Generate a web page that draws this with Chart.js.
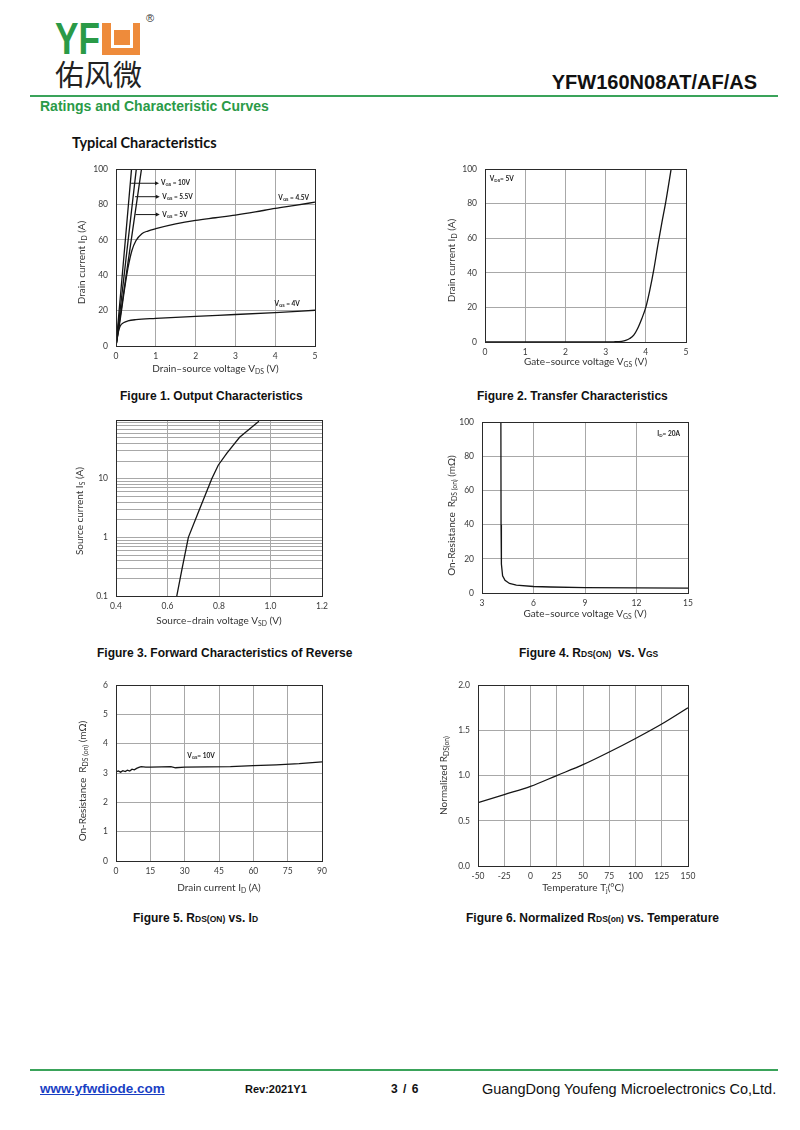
<!DOCTYPE html>
<html>
<head>
<meta charset="utf-8">
<script src="https://cdn.jsdelivr.net/npm/chart.js@4.4.0/dist/chart.umd.min.js"></script>
<style>
body { margin: 0; background: #fff; }
#page { position: relative; width: 800px; height: 1130px; background: #fff; overflow: hidden; font-family: 'Liberation Sans', Arial, sans-serif; }
.abs { position: absolute; white-space: nowrap; }
canvas { position: absolute; }
.cap { font-size: 12px; line-height: 14px; font-weight: bold; color: #111; }
.cap .s { font-size: 8.5px; }
.gline { position: absolute; left: 30px; width: 748px; height: 2px; background: #3aa35a; }
</style>
</head>
<body>
<div id="page">
  <!-- header -->
  <div class="abs" style="left:55px;top:17px;font-size:44px;line-height:44px;font-weight:bold;color:#2a9a47;transform:scaleX(0.8);transform-origin:0 0;">YF</div>
  <div class="abs" style="left:102px;top:23px;width:38px;height:32px;background:#ee8b3b;"></div>
  <div class="abs" style="left:111px;top:23px;width:22px;height:25px;background:#fff;"></div>
  <div class="abs" style="left:114px;top:30px;width:16px;height:15px;background:#ee8b3b;"></div>
  <div class="abs" style="left:146px;top:12px;font-size:11px;color:#333;">&reg;</div>
  <div class="abs" style="left:55px;top:59px;font-family:'Noto Sans CJK SC';font-size:29px;line-height:29px;color:#222;">佑风微</div>
  <div class="abs" style="right:43px;top:72px;font-size:20px;line-height:20px;font-weight:bold;color:#111;">YFW160N08AT/AF/AS</div>
  <div class="gline" style="top:95px;"></div>
  <div class="abs" style="left:40px;top:99px;font-size:14px;line-height:14px;font-weight:bold;color:#2a9a47;">Ratings and Characteristic Curves</div>
  <div class="abs" style="left:72px;top:135px;font-family:Lato;font-size:14.5px;line-height:16px;font-weight:bold;color:#111;">Typical Characteristics</div>

  <canvas id="fig1"></canvas>
  <canvas id="fig2"></canvas>
  <canvas id="fig3"></canvas>
  <canvas id="fig4"></canvas>
  <canvas id="fig5"></canvas>
  <canvas id="fig6"></canvas>

  <div class="abs cap" style="left:120px;top:389px;">Figure 1. Output Characteristics</div>
  <div class="abs cap" style="left:477px;top:389px;">Figure 2. Transfer Characteristics</div>
  <div class="abs cap" style="left:97px;top:646px;">Figure 3. Forward Characteristics of Reverse</div>
  <div class="abs cap" style="left:519px;top:646px;">Figure 4. R<span class="s">DS(ON)</span>&nbsp; vs. V<span class="s">GS</span></div>
  <div class="abs cap" style="left:133px;top:911px;">Figure 5. R<span class="s">DS(ON)</span> vs. I<span class="s">D</span></div>
  <div class="abs cap" style="left:466px;top:911px;">Figure 6. Normalized R<span class="s">DS(on)</span> vs. Temperature</div>

  <!-- footer -->
  <div class="gline" style="top:1069px;"></div>
  <div class="abs" style="left:40px;top:1082px;font-size:13.5px;line-height:14px;font-weight:bold;color:#1a3fc4;text-decoration:underline;">www.yfwdiode.com</div>
  <div class="abs" style="left:245px;top:1082px;font-size:11px;line-height:14px;font-weight:bold;color:#111;">Rev:2021Y1</div>
  <div class="abs" style="left:391px;top:1082px;font-size:12px;line-height:14px;font-weight:bold;color:#111;word-spacing:2px;">3 / 6</div>
  <div class="abs" style="left:482px;top:1082px;font-size:14.5px;line-height:14px;color:#111;">GuangDong Youfeng Microelectronics Co,Ltd.</div>
</div>

<script>
// Figure 1 - output characteristics
var vds10 = [0, 0.2, 0.39];
var id10 = [0, 51, 100];
var vds55 = [0, 0.25, 0.51];
var id55 = [0, 49, 100];
var vds5 = [0, 0.3, 0.64];
var id5 = [0, 47, 100];
var vds45 = [0, 0.1, 0.2, 0.3, 0.4, 0.5, 0.65, 0.8, 1, 1.5, 2, 2.5, 3, 3.5, 4, 4.5, 5];
var id45 = [0, 14, 30, 44, 54, 59.5, 63.5, 65, 66.3, 69, 71, 72.5, 74, 75.8, 77.8, 79.5, 81.3];
var vds4 = [0, 0.05, 0.1, 0.2, 0.3, 0.5, 1, 2, 3, 4, 5];
var id4 = [0, 7, 11, 13.3, 14.2, 14.9, 15.6, 16.8, 17.8, 18.9, 20.2];

// Figure 2 - transfer characteristics
var vgsT = [0, 3.0, 3.2, 3.4, 3.5, 3.6, 3.7, 3.8, 3.9, 4.0, 4.1, 4.2, 4.3, 4.4, 4.5, 4.63];
var idT = [0, 0, 0.1, 0.4, 0.9, 2, 4, 8, 13.5, 20, 30, 42, 56, 69, 81.5, 100];

// Figure 3 - body diode forward
var vsd = [0.636, 0.657, 0.681, 0.724, 0.772, 0.797, 0.83, 0.88, 0.955];
var isd = [0.1, 0.3, 1, 3, 10, 17, 27, 51, 96];
var fig3YTicks = [0.1, 0.2, 0.3, 0.4, 0.5, 0.6, 0.7, 0.8, 0.9, 1, 2, 3, 4, 5, 6, 7, 8, 9, 10, 20, 30, 40, 50, 60, 70, 80, 90, 100];
var fig3YLabels = [0.1, 1, 10];

// Figure 4 - Rds(on) vs Vgs
var vgsR = [4.1, 4.11, 4.13, 4.2, 4.34, 4.6, 5, 6, 7, 9, 12, 15];
var rdsV = [100, 40, 17, 10, 7.4, 5.6, 4.6, 3.8, 3.5, 3.2, 3.0, 2.8];

// Figure 5 - Rds(on) vs Id
var idR = [0, 1, 2, 3, 4, 5, 6, 7, 8, 9, 10, 11, 13, 15, 20, 24, 26, 30, 40, 50, 60, 70, 80, 90];
var rdsI = [3.04, 3.07, 3.03, 3.08, 3.05, 3.1, 3.07, 3.13, 3.11, 3.16, 3.19, 3.22, 3.2, 3.2, 3.21, 3.22, 3.18, 3.2, 3.21, 3.22, 3.25, 3.28, 3.32, 3.38];

// Figure 6 - normalized Rds(on) vs temperature
var tj = [-50, -25, 0, 25, 50, 75, 100, 125, 150];
var rdsNorm = [0.70, 0.79, 0.88, 1.0, 1.12, 1.26, 1.41, 1.57, 1.75];

var PAD_L = 70, PAD_T = 12, PAD_R = 20, PAD_B = 40;
var notes = {};

function pts(xs, ys) {
  return xs.map(function (x, i) { return { x: x, y: ys[i] }; });
}

function curve(xs, ys, smooth) {
  return {
    data: pts(xs, ys),
    showLine: true,
    borderColor: '#151515',
    borderWidth: 1.3,
    pointRadius: 0,
    fill: false,
    tension: 0,
    cubicInterpolationMode: smooth ? 'monotone' : 'default'
  };
}

function fontOf(sub, size, weight) {
  return (weight || 'normal') + ' ' + (sub ? size * 0.68 : size) + 'px Lato';
}

function drawRich(ctx, segs, x, y, size, align, weight) {
  var w = 0;
  segs.forEach(function (s) { ctx.font = fontOf(s[1], size, weight); w += ctx.measureText(s[0]).width; });
  var cx = align === 'center' ? x - w / 2 : (align === 'right' ? x - w : x);
  ctx.textAlign = 'left';
  ctx.textBaseline = 'middle';
  segs.forEach(function (s) {
    ctx.font = fontOf(s[1], size, weight);
    ctx.fillText(s[0], cx, s[1] ? y + size * 0.25 : y);
    cx += ctx.measureText(s[0]).width;
  });
}

var notePlugin = {
  id: 'notes',
  afterDraw: function (chart) {
    var n = notes[chart.canvas.id];
    var ctx = chart.ctx, a = chart.chartArea, xs = chart.scales.x, ys = chart.scales.y;
    ctx.save();
    ctx.strokeStyle = '#2a2a2a';
    ctx.lineWidth = 1;
    ctx.strokeRect(Math.round(a.left) + 0.5, Math.round(a.top) + 0.5, Math.round(a.right - a.left), Math.round(a.bottom - a.top));
    ctx.fillStyle = '#333';
    drawRich(ctx, n.xTitle, (a.left + a.right) / 2, a.bottom + n.xOff, 10, 'center');
    ctx.save();
    ctx.translate(a.left - n.yOff, (a.top + a.bottom) / 2 + (n.yShift || 0));
    ctx.rotate(-Math.PI / 2);
    drawRich(ctx, n.yTitle, 0, 0, 10, 'center');
    ctx.restore();
    ctx.fillStyle = '#1a1a1a';
    ctx.strokeStyle = '#1a1a1a';
    (n.arrows || []).forEach(function (ar) {
      var x1 = xs.getPixelForValue(ar[0]), y1 = ys.getPixelForValue(ar[1]);
      var x2 = xs.getPixelForValue(ar[2]);
      ctx.beginPath();
      ctx.moveTo(x1, y1);
      ctx.lineTo(x2 - 3, y1);
      ctx.stroke();
      ctx.beginPath();
      ctx.moveTo(x2, y1);
      ctx.lineTo(x2 - 4, y1 - 2);
      ctx.lineTo(x2 - 4, y1 + 2);
      ctx.closePath();
      ctx.fill();
    });
    (n.labels || []).forEach(function (lb) {
      drawRich(ctx, lb.segs, xs.getPixelForValue(lb.x), ys.getPixelForValue(lb.y), 6.5, lb.align || 'left', 'bold');
    });
    ctx.restore();
  }
};

function axis(which, o) {
  return {
    type: o.type || 'linear',
    min: o.min,
    max: o.max,
    grid: { color: '#a8a8a8', lineWidth: 1, drawTicks: false },
    border: { display: false },
    afterBuildTicks: o.build,
    afterFit: function (sc) {
      if (which === 'x') sc.height = PAD_B; else sc.width = PAD_L;
    },
    ticks: {
      stepSize: o.step,
      color: '#3a3a3a',
      font: { family: 'Lato', size: 8.5 },
      padding: which === 'x' ? 5 : 8,
      autoSkip: false,
      maxRotation: 0,
      callback: o.fmt || function (v) { return String(v); }
    }
  };
}

function makeChart(id, rect, datasets, xo, yo, note) {
  var cv = document.getElementById(id);
  cv.width = rect[2] - rect[0] + PAD_L + PAD_R;
  cv.height = rect[3] - rect[1] + PAD_T + PAD_B;
  cv.style.left = (rect[0] - PAD_L) + 'px';
  cv.style.top = (rect[1] - PAD_T) + 'px';
  notes[id] = note;
  return new Chart(cv, {
    type: 'scatter',
    data: { datasets: datasets },
    options: {
      responsive: false,
      animation: false,
      layout: { padding: { left: 0, top: PAD_T, right: PAD_R, bottom: 0 } },
      plugins: { legend: { display: false }, tooltip: { enabled: false } },
      scales: { x: axis('x', xo), y: axis('y', yo) }
    },
    plugins: [notePlugin]
  });
}

function vgs(rest) { return [['V', 0], ['GS', 1], [rest, 0]]; }

makeChart('fig1', [116, 168, 315, 346],
  [curve(vds10, id10), curve(vds55, id55), curve(vds5, id5), curve(vds45, id45, true), curve(vds4, id4, true)],
  { min: 0, max: 5, step: 1 },
  { min: 0, max: 100, step: 20 },
  {
    xTitle: [['Drain\u2013source voltage V', 0], ['DS', 1], [' (V)', 0]], xOff: 23,
    yTitle: [['Drain current I', 0], ['D', 1], [' (A)', 0]], yOff: 34, yShift: 5,
    arrows: [[0.38, 92, 1.08], [0.48, 84.4, 1.1], [0.49, 74.3, 1.1]],
    labels: [
      { segs: vgs(' = 10V'), x: 1.13, y: 92 },
      { segs: vgs(' = 5.5V'), x: 1.16, y: 84.4 },
      { segs: vgs(' = 5V'), x: 1.16, y: 74.3 },
      { segs: vgs(' = 4.5V'), x: 4.85, y: 83.5, align: 'right' },
      { segs: vgs(' = 4V'), x: 4.62, y: 24, align: 'right' }
    ]
  });

makeChart('fig2', [485, 168, 686, 342],
  [curve(vgsT, idT, true)],
  { min: 0, max: 5, step: 1 },
  { min: 0, max: 100, step: 20 },
  {
    xTitle: [['Gate\u2013source voltage V', 0], ['GS', 1], [' (V)', 0]], xOff: 20,
    yTitle: [['Drain current I', 0], ['D', 1], [' (A)', 0]], yOff: 33, yShift: 5,
    labels: [{ segs: [['V', 0], ['DS', 1], ['= 5V', 0]], x: 0.12, y: 94.4 }]
  });

makeChart('fig3', [116, 419, 322, 596],
  [curve(vsd, isd)],
  { min: 0.4, max: 1.2, step: 0.2, fmt: function (v) { return v.toFixed(1); } },
  {
    type: 'logarithmic', min: 0.1, max: 100,
    build: function (sc) { sc.ticks = fig3YTicks.map(function (v) { return { value: v }; }); },
    fmt: function (v) { return fig3YLabels.indexOf(v) >= 0 ? String(v) : ''; }
  },
  {
    xTitle: [['Source\u2013drain voltage V', 0], ['SD', 1], [' (V)', 0]], xOff: 25,
    yTitle: [['Source current I', 0], ['S', 1], [' (A)', 0]], yOff: 36, yShift: 3
  });

makeChart('fig4', [482, 421, 688, 593],
  [curve(vgsR, rdsV)],
  { min: 3, max: 15, step: 3 },
  { min: 0, max: 100, step: 20 },
  {
    xTitle: [['Gate\u2013source voltage V', 0], ['GS', 1], [' (V)', 0]], xOff: 21,
    yTitle: [['On-Resistance  R', 0], ['DS (on)', 1], [' (m\u03A9)', 0]], yOff: 30, yShift: 8,
    labels: [{ segs: [['I', 0], ['D', 1], ['= 20A', 0]], x: 14.53, y: 93.2, align: 'right' }]
  });

makeChart('fig5', [116, 684, 322, 861],
  [curve(idR, rdsI)],
  { min: 0, max: 90, step: 15 },
  { min: 0, max: 6, step: 1 },
  {
    xTitle: [['Drain current I', 0], ['D', 1], [' (A)', 0]], xOff: 27,
    yTitle: [['On-Resistance  R', 0], ['DS (on)', 1], [' (m\u03A9)', 0]], yOff: 33, yShift: 8,
    labels: [{ segs: vgs('= 10V'), x: 31.1, y: 3.59 }]
  });

makeChart('fig6', [478, 684, 688, 866],
  [curve(tj, rdsNorm, true)],
  { min: -50, max: 150, step: 25 },
  { min: 0, max: 2, step: 0.5, fmt: function (v) { return v.toFixed(1); } },
  {
    xTitle: [['Temperature T', 0], ['j', 1], ['(\u00B0C)', 0]], xOff: 22,
    yTitle: [['Normalized R', 0], ['DS(on)', 1]], yOff: 34
  });
</script>
</body>
</html>
